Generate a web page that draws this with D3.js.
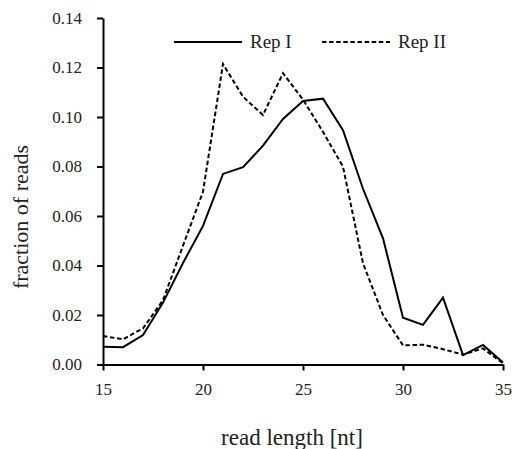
<!DOCTYPE html>
<html>
<head>
<meta charset="utf-8">
<script src="https://cdn.jsdelivr.net/npm/d3@7"></script>
<style>
  body { margin: 0; background: #fff; }
  svg { display: block; font-family: "Liberation Serif", "Times New Roman", serif; }
</style>
</head>
<body>
<svg id="chart" width="512" height="449"></svg>
<script>
var readLength = [15, 16, 17, 18, 19, 20, 21, 22, 23, 24, 25, 26, 27, 28, 29, 30, 31, 32, 33, 34, 35];
var repI  = [0.0072, 0.0070, 0.0119, 0.025, 0.041, 0.056, 0.077, 0.0797, 0.0884, 0.0992, 0.1065, 0.1074, 0.0947, 0.071, 0.051, 0.0189, 0.016, 0.027, 0.0038, 0.0079, 0.0008];
var repII = [0.0115, 0.0102, 0.0146, 0.026, 0.048, 0.0698, 0.1214, 0.1082, 0.1008, 0.1177, 0.107, 0.094, 0.0799, 0.0409, 0.020, 0.0077, 0.008, 0.0062, 0.004, 0.0065, 0.0005];
var xTicks = [15, 20, 25, 30, 35];
var yTicks = [0, 0.02, 0.04, 0.06, 0.08, 0.10, 0.12, 0.14];
var seriesNames = ["Rep I", "Rep II"];

var svg = d3.select('#chart');
var margin = {top: 18, right: 9, bottom: 84.5, left: 103};
var width = +svg.attr('width');
var height = +svg.attr('height');

var x = d3.scaleLinear()
    .domain([15, 35])
    .range([margin.left, width - margin.right]);

var y = d3.scaleLinear()
    .domain([0, 0.14])
    .range([height - margin.bottom, margin.top]);

// series
var series = [
    {name: seriesNames[0], values: repI, dash: null},
    {name: seriesNames[1], values: repII, dash: "4.5,2.6"}
];

var line = d3.line()
    .x(function(d, i) { return x(readLength[i]); })
    .y(function(d) { return y(d); });

svg.selectAll('path.series')
    .data(series)
    .enter()
    .append('path')
    .attr('class', 'series')
    .attr('d', function(d) { return line(d.values); })
    .attr('fill', 'none')
    .attr('stroke', '#000')
    .attr('stroke-width', 2)
    .attr('stroke-dasharray', function(d) { return d.dash; });

// axes
var xAxis = d3.axisBottom(x)
    .tickValues(xTicks)
    .tickFormat(d3.format('d'))
    .tickSize(6)
    .tickSizeOuter(0)
    .tickPadding(12);

var yAxis = d3.axisLeft(y)
    .tickValues(yTicks)
    .tickFormat(d3.format('.2f'))
    .tickSize(6)
    .tickSizeOuter(0)
    .tickPadding(15);

var gx = svg.append('g')
    .attr('transform', 'translate(0,' + (height - margin.bottom) + ')')
    .call(xAxis);

var gy = svg.append('g')
    .attr('transform', 'translate(' + margin.left + ',0)')
    .call(yAxis);

[gx, gy].forEach(function(g) {
    g.selectAll('path.domain, line').attr('stroke', '#000').attr('stroke-width', 2);
    g.selectAll('text')
        .attr('fill', '#222')
        .style('font-family', '"Liberation Serif", serif')
        .style('font-size', '17px');
});

// axis titles
svg.append('text')
    .attr('x', 292)
    .attr('y', 445)
    .attr('text-anchor', 'middle')
    .attr('fill', '#222')
    .style('font-size', '23px')
    .text('read length [nt]');

svg.append('text')
    .attr('transform', 'translate(28,217) rotate(-90)')
    .attr('text-anchor', 'middle')
    .attr('fill', '#222')
    .style('font-size', '22px')
    .text('fraction of reads');

// legend
var legend = svg.append('g').attr('class', 'legend');
var legendX = [174, 322];
var legendItems = legend.selectAll('g')
    .data(series)
    .enter()
    .append('g')
    .attr('transform', function(d, i) { return 'translate(' + legendX[i] + ',42)'; });

legendItems.append('line')
    .attr('x1', 0).attr('x2', 68)
    .attr('y1', 0).attr('y2', 0)
    .attr('stroke', '#000')
    .attr('stroke-width', 2)
    .attr('stroke-dasharray', function(d) { return d.dash; });

legendItems.append('text')
    .attr('x', 76)
    .attr('y', 6)
    .attr('fill', '#222')
    .style('font-size', '19px')
    .text(function(d) { return d.name; });
</script>
</body>
</html>
